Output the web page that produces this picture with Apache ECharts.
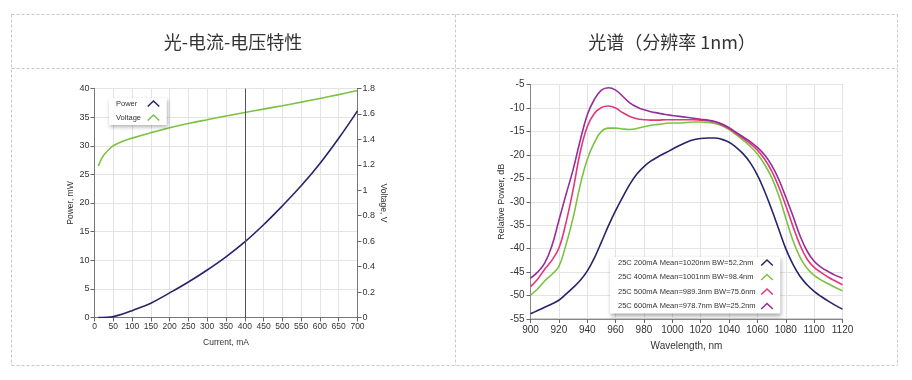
<!DOCTYPE html>
<html><head><meta charset="utf-8">
<script src="https://cdn.jsdelivr.net/npm/echarts@6/dist/echarts.min.js"></script>
<style>html,body{margin:0;padding:0;background:#fff}#c{width:912px;height:380px}</style>
</head><body><div id="c"></div>
<script>
// ---------- data ----------
const liTitle = '光-电流-电压特性';
const spTitle = '光谱（分辨率 1nm）';
const currentMA = [10, 20, 30, 40, 50, 75, 100, 150, 200, 250, 300, 350, 400, 450, 500, 550, 600, 650, 700];
const powerMW   = [0, 0, 0.02, 0.07, 0.15, 0.6, 1.2, 2.5, 4.3, 6.2, 8.3, 10.6, 13.2, 16.2, 19.5, 23.0, 26.9, 31.3, 36.1];
const voltageV  = [1.19, 1.255, 1.295, 1.325, 1.35, 1.385, 1.41, 1.453, 1.492, 1.525, 1.555, 1.584, 1.611, 1.638, 1.665, 1.693, 1.722, 1.752, 1.784];
const cursorMA = 400;
const liLegend = ['Power', 'Voltage'];

const wavelengthNM = [900, 905, 910, 915, 920, 925, 930, 935, 940, 945, 950, 955, 960, 965, 970, 975, 980, 985, 990, 995,
  1000, 1005, 1010, 1015, 1020, 1025, 1030, 1035, 1040, 1045, 1050, 1055, 1060, 1065, 1070, 1075, 1080, 1085, 1090, 1095,
  1100, 1105, 1110, 1115, 1120];
const spec200 = [-53.9, -53.2, -52.5, -51.8, -51.0, -49.7, -48.3, -46.8, -44.8, -42.0, -38.6, -35.1, -31.9, -29.0, -26.3, -24.1, -22.5, -21.3, -20.4, -19.6,
  -18.8, -18.0, -17.3, -16.8, -16.5, -16.4, -16.4, -16.7, -17.3, -18.4, -19.8, -21.7, -24.3, -27.7, -31.6, -35.8, -40.0, -43.3, -45.9, -47.7,
  -49.1, -50.2, -51.2, -52.1, -52.9];
const spec400 = [-49.9, -48.6, -46.9, -45.5, -43.8, -39.2, -33.5, -26.5, -21.0, -17.4, -15.0, -14.3, -14.3, -14.5, -14.6, -14.4, -14.0, -13.7, -13.5, -13.3,
  -13.2, -13.2, -13.1, -13.0, -13.0, -13.1, -13.3, -13.8, -14.6, -15.7, -16.9, -18.2, -19.8, -22.0, -24.8, -28.6, -33.5, -38.2, -41.8, -44.2,
  -45.7, -46.7, -47.5, -48.3, -49.0];
const spec500 = [-48.1, -46.5, -44.4, -42.5, -39.9, -34.5, -27.5, -19.5, -14.0, -11.2, -9.9, -9.6, -10.0, -11.0, -11.8, -12.3, -12.5, -12.6, -12.6, -12.5,
  -12.5, -12.5, -12.5, -12.5, -12.6, -12.7, -13.0, -13.6, -14.4, -15.4, -16.5, -17.6, -19.0, -20.9, -23.4, -26.8, -30.8, -35.2, -39.2, -42.2,
  -44.0, -45.1, -46.1, -46.9, -47.7];
const spec600 = [-46.3, -45.0, -43.1, -39.5, -34.0, -28.5, -23.2, -17.0, -11.5, -8.2, -6.2, -5.7, -6.2, -7.5, -8.9, -9.8, -10.4, -10.8, -11.1, -11.4,
  -11.6, -11.8, -12.0, -12.2, -12.4, -12.6, -12.9, -13.4, -14.2, -15.2, -16.2, -17.2, -18.4, -20.0, -22.2, -25.2, -29.0, -33.0, -37.2, -40.5,
  -42.7, -44.0, -44.9, -45.7, -46.3];
const specNames = [
  '25C 200mA Mean=1020nm BW=52.2nm',
  '25C 400mA Mean=1001nm BW=98.4nm',
  '25C 500mA Mean=989.3nm BW=75.6nm',
  '25C 600mA Mean=978.7nm BW=25.2nm'
];

// ---------- styling ----------
const NAVY = '#28246c', GREEN = '#7cc242', PINK = '#e2377d', PURPLE = '#982c98';
const SANS = '"Liberation Sans", Arial, sans-serif';
const CJK = '"Noto Sans CJK SC", "Noto Sans", sans-serif';
const CHEVRON = 'path://M0,8 L9,-0.5 L18,8 L16.5,9.5 L9,2.4 L1.5,9.5 Z';
const DASH = {stroke: '#c9c9c9', lineWidth: 1, lineDash: [3, 2]};

function zip(xs, ys) { return xs.map((x, i) => [x, ys[i]]); }

const chart = echarts.init(document.getElementById('c'), null, {renderer: 'canvas'});

const axisTick = {show: true, length: 4, lineStyle: {color: '#666'}};
const gridLine = {show: true, lineStyle: {color: '#e4e4e4', width: 1}};

const specSeries = [spec200, spec400, spec500, spec600].map((arr, i) => ({
  name: specNames[i], type: 'line', xAxisIndex: 1, yAxisIndex: 2,
  data: zip(wavelengthNM, arr), showSymbol: false, smooth: 0.4,
  lineStyle: {width: 1.6}, color: [NAVY, GREEN, PINK, PURPLE][i]
}));

const option = {
  animation: false,
  graphic: [
    {type: 'line', shape: {x1: 11.5, y1: 14.5, x2: 897.5, y2: 14.5}, style: DASH, silent: true},
    {type: 'line', shape: {x1: 11.5, y1: 68.5, x2: 897.5, y2: 68.5}, style: DASH, silent: true},
    {type: 'line', shape: {x1: 11.5, y1: 365.5, x2: 897.5, y2: 365.5}, style: DASH, silent: true},
    {type: 'line', shape: {x1: 11.5, y1: 14.5, x2: 11.5, y2: 365.5}, style: DASH, silent: true},
    {type: 'line', shape: {x1: 455.5, y1: 14.5, x2: 455.5, y2: 365.5}, style: DASH, silent: true},
    {type: 'line', shape: {x1: 897.5, y1: 14.5, x2: 897.5, y2: 365.5}, style: DASH, silent: true},
    {type: 'text', x: 233, y: 42, silent: true,
      style: {text: liTitle, fill: '#333', font: '18px ' + CJK, textAlign: 'center', textVerticalAlign: 'middle'}},
    {type: 'text', x: 672, y: 42, silent: true,
      style: {text: spTitle, fill: '#333', font: '18px ' + CJK, textAlign: 'center', textVerticalAlign: 'middle'}}
  ],
  grid: [
    {left: 94.5, right: 554.5, top: 88.5, bottom: 62.5, show: true, borderColor: '#aaa', borderWidth: 1, backgroundColor: '#fff'},
    {left: 530.5, right: 69.5, top: 84.5, bottom: 61, show: true, borderColor: '#999', borderWidth: 1, backgroundColor: '#fff'}
  ],
  xAxis: [
    {type: 'value', gridIndex: 0, min: 0, max: 700, interval: 50,
      name: 'Current, mA', nameLocation: 'middle', nameGap: 21,
      nameTextStyle: {color: '#333', fontSize: 8.5, fontFamily: SANS},
      axisLine: {show: true, lineStyle: {color: '#777'}}, axisTick: axisTick,
      axisLabel: {color: '#333', fontSize: 8.5, fontFamily: SANS, margin: 5, interval: 0},
      splitLine: gridLine},
    {type: 'value', gridIndex: 1, min: 900, max: 1120, interval: 20,
      name: 'Wavelength, nm', nameLocation: 'middle', nameGap: 22,
      nameTextStyle: {color: '#333', fontSize: 10, fontFamily: SANS},
      axisLine: {show: true, lineStyle: {color: '#888'}}, axisTick: axisTick,
      axisLabel: {color: '#333', fontSize: 10, fontFamily: SANS, margin: 6, interval: 0,
        formatter: v => String(v)},
      splitLine: gridLine}
  ],
  yAxis: [
    {type: 'value', gridIndex: 0, min: 0, max: 40, interval: 5, position: 'left',
      name: 'Power, mW', nameLocation: 'middle', nameGap: 16, nameRotate: 90,
      nameTextStyle: {color: '#333', fontSize: 8.5, fontFamily: SANS},
      axisLine: {show: true, lineStyle: {color: '#777'}}, axisTick: axisTick,
      axisLabel: {color: '#333', fontSize: 9, fontFamily: SANS, margin: 5},
      splitLine: gridLine},
    {type: 'value', gridIndex: 0, min: 0, max: 1.8, interval: 0.2, position: 'right',
      name: 'Voltage, V', nameLocation: 'middle', nameGap: 19, nameRotate: -90,
      nameTextStyle: {color: '#333', fontSize: 8.5, fontFamily: SANS},
      axisLine: {show: true, lineStyle: {color: '#777'}}, axisTick: axisTick,
      axisLabel: {color: '#333', fontSize: 9, fontFamily: SANS, margin: 5},
      splitLine: {show: false}},
    {type: 'value', gridIndex: 1, min: -55, max: -5, interval: 5,
      name: 'Relative Power, dB', nameLocation: 'middle', nameGap: 22, nameRotate: 90,
      nameTextStyle: {color: '#333', fontSize: 9, fontFamily: SANS},
      axisLine: {show: true, lineStyle: {color: '#888'}}, axisTick: axisTick,
      axisLabel: {color: '#333', fontSize: 10, fontFamily: SANS, margin: 6},
      splitLine: gridLine}
  ],
  legend: [
    {data: liLegend, orient: 'vertical', left: 109, top: 98, align: 'right',
      icon: CHEVRON, itemWidth: 13, itemHeight: 7, itemGap: 3,
      padding: [0, 7, 2, 7], backgroundColor: '#fff',
      shadowBlur: 4, shadowColor: 'rgba(0,0,0,0.3)', shadowOffsetX: 1, shadowOffsetY: 2,
      formatter: n => '{t|' + n + '}',
      textStyle: {color: '#333', fontSize: 7.5, fontFamily: SANS, lineHeight: 11,
        rich: {t: {width: 26, align: 'left', fontSize: 7.5, fontFamily: SANS, color: '#333'}}},
      selectedMode: false},
    {data: specNames, orient: 'vertical', left: 610, top: 257, align: 'right',
      icon: CHEVRON, itemWidth: 14, itemHeight: 7, itemGap: 3.5,
      padding: [0, 7, 2, 8], backgroundColor: '#fff',
      shadowBlur: 4, shadowColor: 'rgba(0,0,0,0.35)', shadowOffsetX: 1, shadowOffsetY: 2,
      formatter: n => '{t|' + n + '}',
      textStyle: {color: '#333', fontSize: 7.5, fontFamily: SANS, lineHeight: 11,
        rich: {t: {width: 137, align: 'left', fontSize: 7.5, fontFamily: SANS, color: '#333'}}},
      selectedMode: false}
  ],
  series: [
    {name: 'Power', type: 'line', xAxisIndex: 0, yAxisIndex: 0, data: zip(currentMA, powerMW),
      showSymbol: false, smooth: 0.4, lineStyle: {width: 1.6}, color: NAVY,
      markLine: {silent: true, symbol: ['none', 'none'], label: {show: false},
        lineStyle: {color: '#555', type: 'solid', width: 1}, data: [{xAxis: cursorMA}]}},
    {name: 'Voltage', type: 'line', xAxisIndex: 0, yAxisIndex: 1, data: zip(currentMA, voltageV),
      showSymbol: false, smooth: 0.4, lineStyle: {width: 1.6}, color: GREEN},
    ...specSeries
  ]
};
chart.setOption(option);
</script></body></html>
